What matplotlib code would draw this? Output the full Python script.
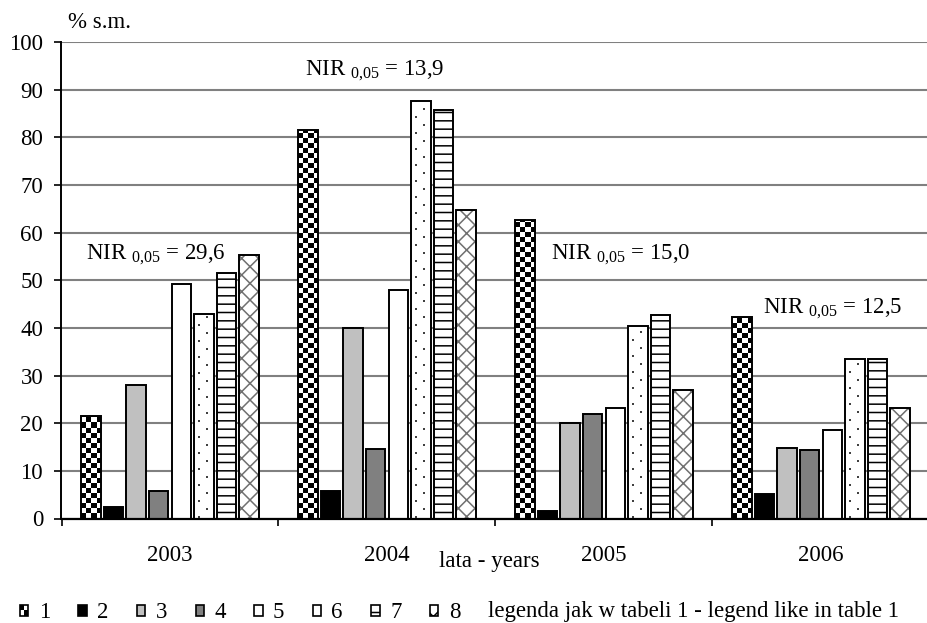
import numpy as np
import matplotlib
matplotlib.use("Agg")
import matplotlib.pyplot as plt
from matplotlib.patches import Patch, Rectangle
from matplotlib.legend_handler import HandlerBase

plt.rcParams['font.family'] = ['Liberation Serif', 'DejaVu Serif']
plt.rcParams['mathtext.fontset'] = 'custom'
plt.rcParams['mathtext.rm'] = 'Liberation Serif'
plt.rcParams['hatch.linewidth'] = 1.1

# data
years = ['2003', '2004', '2005', '2006']
labels = ['1', '2', '3', '4', '5', '6', '7', '8']
s1 = [21.5, 81.6, 62.6, 42.3]
s2 = [2.4, 5.8, 1.6, 5.1]
s3 = [28.1, 40.0, 20.1, 14.7]
s4 = [5.8, 14.5, 21.9, 14.3]
s5 = [49.3, 48.0, 23.1, 18.5]
s6 = [43.0, 87.7, 40.3, 33.4]
s7 = [51.5, 85.8, 42.7, 33.4]
s8 = [55.4, 64.8, 26.9, 23.1]
series = [s1, s2, s3, s4, s5, s6, s7, s8]
nir = ['29,6', '13,9', '15,0', '12,5']
nir_pos = [(-0.385, 55.3), (0.62, 94.0), (1.755, 55.3), (2.733, 44.1)]

# look of each series: face, hatch, hatch colour
styles = [
    ('white', 'checker', None),
    ('black', None, None),
    ('#c0c0c0', None, None),
    ('#808080', None, None),
    ('white', None, None),
    ('white', 'dots', None),
    ('white', '--', 'black'),
    ('white', 'xx', '#707070'),
]

W, H = 928, 623
FS = 16.5
fig = plt.figure(figsize=(W / 100, H / 100), dpi=100)
ax_l, ax_r = 61.5, 929.5
ax_top, ax_bot = 42, 518.5
ax = fig.add_axes([ax_l / W, 1 - ax_bot / H, (ax_r - ax_l) / W, (ax_bot - ax_top) / H])

px_x = (ax_r - ax_l) / 4.0
px_y = (ax_bot - ax_top) / 100.0

x = np.arange(len(years))
step = 0.104
width = 0.089


def texture(bar, tile):
    # tile: 2D array in pixels, 1 = dark, 0 = clear; repeated over the bar
    x0, y0 = bar.get_x(), bar.get_y()
    w, h = bar.get_width(), bar.get_height()
    nx, ny = int(np.ceil(w * px_x)) + 1, int(np.ceil(h * px_y)) + 1
    th, tw = tile.shape
    big = np.tile(tile, (ny // th + 1, nx // tw + 1))[:ny, :nx]
    rgba = np.zeros((ny, nx, 4))
    rgba[..., 3] = big
    im = ax.imshow(rgba, origin='lower', interpolation='nearest', aspect='auto',
                   extent=(x0, x0 + nx / px_x, y0, y0 + ny / px_y), zorder=2.5)
    im.set_clip_path(bar)


cell = 5
checker_tile = np.kron((np.add.outer(np.arange(2), np.arange(2)) % 2 == 0).astype(float),
                       np.ones((cell, cell)))
dot_tile = np.zeros((16, 16))
dot_tile[0:2, 4:6] = 0.75
dot_tile[8:10, 12:14] = 0.75

for i, vals in enumerate(series):
    face, hatch, hcol = styles[i]
    pos = x + (i - 3.5) * step
    if hatch in ('checker', 'dots'):
        bars = ax.bar(pos, vals, width, color=face, linewidth=0, zorder=2)
        for b in bars:
            texture(b, checker_tile if hatch == 'checker' else dot_tile)
    elif hatch:
        ax.bar(pos, vals, width, color=face, edgecolor=hcol, hatch=hatch,
               linewidth=0, zorder=2)
    else:
        ax.bar(pos, vals, width, color=face, linewidth=0, zorder=2)
    ax.bar(pos, vals, width, facecolor='none', edgecolor='black',
           linewidth=1.4, zorder=3)

for (tx, ty), v in zip(nir_pos, nir):
    ax.text(tx, ty, r'NIR $_{\mathrm{0{,}05}}$ = ' + v, fontsize=FS,
            ha='left', va='center', zorder=4)

ax.set_xlim(-0.5, 3.5)
ax.set_ylim(0, 100)
ax.set_yticks(np.arange(0, 101, 10))
ax.set_xticks(x)
ax.set_xticklabels(years)
ax.set_xticks(np.arange(-0.5, 3.6, 1), minor=True)
ax.tick_params(axis='x', which='major', length=0, pad=19, labelsize=FS)
ax.tick_params(axis='x', which='minor', length=5, width=1.2, direction='out')
ax.tick_params(axis='y', length=5, width=1.2, pad=8.2, labelsize=FS)
ax.grid(axis='y', color='#808080', linewidth=1.5)
ax.set_axisbelow(True)
for sp in ['top', 'right']:
    ax.spines[sp].set_visible(False)
ax.spines['left'].set_linewidth(1.4)
ax.spines['bottom'].set_linewidth(1.6)

ax.text(-0.468, 104, '% s.m.', fontsize=FS, ha='left', va='center', clip_on=False)
fig.text(489 / W, 1 - 561 / H, 'lata - years', fontsize=FS, ha='center', va='center')
fig.text(488 / W, 1 - 612 / H, 'legenda jak w tabeli 1 - legend like in table 1',
         fontsize=FS, ha='left', va='center')


class CheckerHandler(HandlerBase):
    def create_artists(self, legend, orig_handle, xdescent, ydescent,
                       width, height, fontsize, trans):
        x0, y0 = -xdescent, -ydescent
        hw, hh = width / 2, height / 2
        bg = Rectangle((x0, y0), width, height, facecolor='white', lw=0, transform=trans)
        a = Rectangle((x0, y0 + hh), hw, hh, facecolor='black', lw=0, transform=trans)
        b = Rectangle((x0 + hw, y0), hw, hh, facecolor='black', lw=0, transform=trans)
        edge = Rectangle((x0, y0), width, height, facecolor='none',
                         edgecolor='black', lw=1.2, transform=trans)
        return [bg, a, b, edge]


handles = []
for i, lab in enumerate(labels):
    face, hatch, hcol = styles[i]
    h = hatch if hatch not in ('checker', 'dots') else None
    handles.append(Patch(facecolor=face, edgecolor='black', hatch=h,
                         linewidth=1.2, label=lab))
fig.legend(handles=handles, labels=labels, loc='center left',
           bbox_to_anchor=(20 / W, 1 - 613 / H), ncol=8, frameon=False,
           fontsize=FS, handlelength=0.36, handleheight=0.36,
           handletextpad=0.45, columnspacing=1.25, borderpad=0, borderaxespad=0,
           handler_map={handles[0]: CheckerHandler()})

fig.savefig('out.png', dpi=100)
